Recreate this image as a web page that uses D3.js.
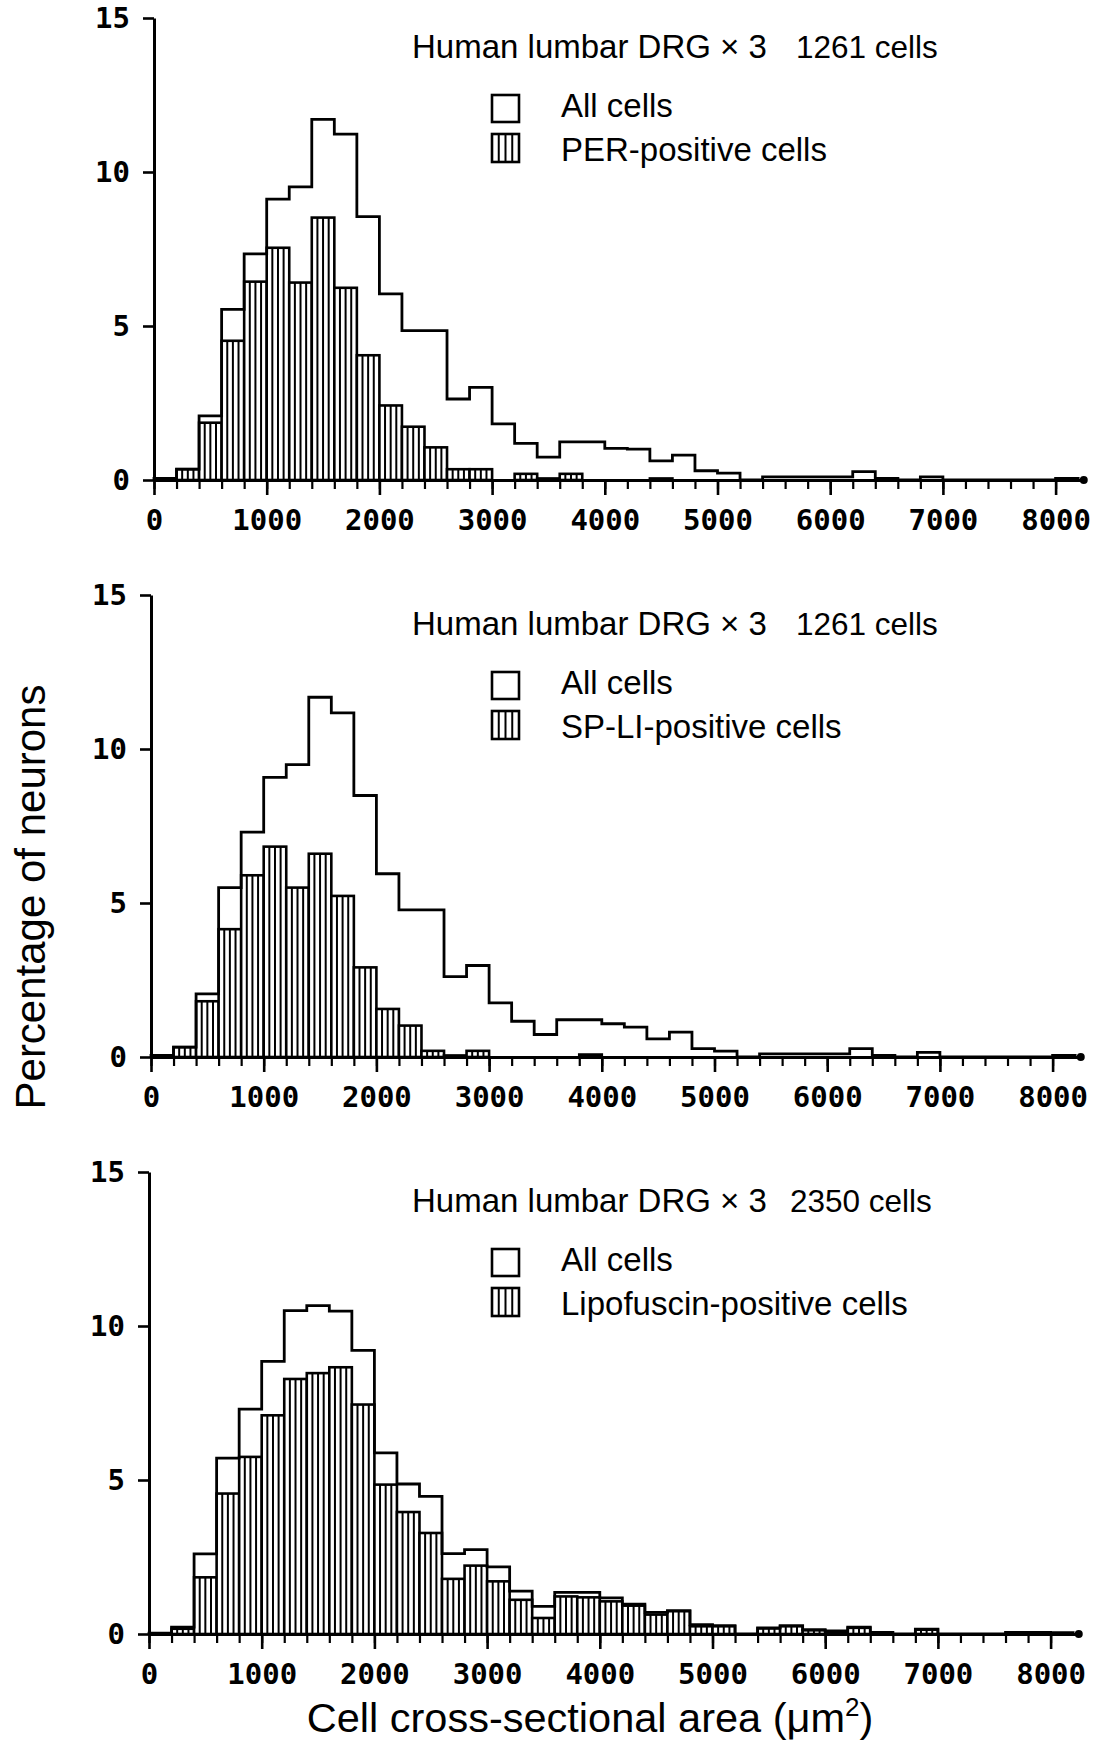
<!DOCTYPE html>
<html>
<head>
<meta charset="utf-8">
<script src="https://cdn.jsdelivr.net/npm/d3@7"></script>
<style>
body { margin: 0; background: #fff; }
</style>
</head>
<body>
<div id="chart"></div>
<script>
// histogram bins: 200 um2 wide, starting at 0 up to 8000
var binWidth = 200;
var binStarts = d3.range(0, 8200, binWidth);

// percentage of neurons per bin
var allCells1 = [0.05, 0.35, 2.08, 5.54, 7.34, 9.12, 9.52, 11.71, 11.23, 8.55,
	6.04, 4.85, 4.85, 2.63, 3.01, 1.82, 1.19, 0.74, 1.24, 1.24,
	1.03, 1.0, 0.62, 0.81, 0.30, 0.22, 0, 0.1, 0.1, 0.1,
	0.1, 0.27, 0.05, 0, 0.1, 0, 0, 0, 0, 0, 0.05];
var perCells = [0, 0.35, 1.86, 4.52, 6.44, 7.54, 6.41, 8.52, 6.24, 4.05,
	2.42, 1.73, 1.06, 0.35, 0.35, 0, 0.2, 0.05, 0.2, 0,
	0, 0, 0.05, 0, 0, 0, 0, 0, 0, 0,
	0, 0, 0.05, 0, 0, 0, 0, 0, 0, 0, 0];

var allCells2 = [0.05, 0.32, 2.05, 5.5, 7.3, 9.08, 9.49, 11.68, 11.17, 8.49,
	5.95, 4.78, 4.78, 2.61, 2.97, 1.76, 1.16, 0.73, 1.21, 1.21,
	1.08, 0.97, 0.59, 0.81, 0.27, 0.19, 0, 0.1, 0.1, 0.1,
	0.1, 0.27, 0.05, 0, 0.15, 0, 0, 0, 0, 0, 0.05];
var spCells = [0, 0.32, 1.81, 4.15, 5.9, 6.83, 5.5, 6.6, 5.23, 2.91,
	1.56, 1.02, 0.2, 0.05, 0.2, 0, 0, 0, 0, 0.08,
	0, 0, 0, 0, 0, 0, 0, 0, 0, 0,
	0, 0, 0.05, 0, 0, 0, 0, 0, 0, 0, 0];

var allCells3 = [0.03, 0.22, 2.6, 5.71, 7.3, 8.85, 10.5, 10.66, 10.48, 9.21,
	5.88, 4.87, 4.47, 2.61, 2.74, 2.18, 1.39, 0.9, 1.35, 1.35,
	1.17, 0.97, 0.70, 0.76, 0.30, 0.27, 0, 0.2, 0.27, 0.14,
	0.1, 0.22, 0.05, 0, 0.16, 0, 0, 0, 0.05, 0.05, 0.04];
var lipoCells = [0, 0.17, 1.84, 4.56, 5.75, 7.1, 8.28, 8.47, 8.66, 7.45,
	4.85, 3.96, 3.28, 1.79, 2.22, 1.71, 1.11, 0.52, 1.22, 1.19,
	1.06, 0.92, 0.63, 0.74, 0.25, 0.25, 0, 0.18, 0.25, 0.12,
	0.08, 0.2, 0.05, 0, 0.14, 0, 0, 0, 0, 0, 0];

var cellCounts = ["1261 cells", "1261 cells", "2350 cells"];
var positiveLabels = ["PER-positive cells", "SP-LI-positive cells", "Lipofuscin-positive cells"];
var headerText = "Human lumbar DRG \u00d7 3";
var legendAll = "All cells";

var xMajorTicks = [0, 1000, 2000, 3000, 4000, 5000, 6000, 7000, 8000];
var xTickLabels = ["0", "1000", "2000", "3000", "4000", "5000", "6000", "7000", "8000"];
var yTicks = [0, 5, 10, 15];
var yTickLabels = ["0", "5", "10", "15"];

var W = 1099, H = 1743;
var pxPer1000 = 112.7;
var axisEnd = 8250; // baseline runs a little past the last bin, ends in a dot
var textFont = "'Liberation Sans', Arial, sans-serif";
var tickFont = "'DejaVu Sans Mono', monospace";

var svg = d3.select("#chart")
	.append("svg")
	.attr("width", W)
	.attr("height", H);

// one entry per panel: where it sits on the page
var panels = [
	{ left: 154, base: 480, all: allCells1, pos: perCells, count: cellCounts[0], countX: 796, label: positiveLabels[0] },
	{ left: 151, base: 1057, all: allCells2, pos: spCells, count: cellCounts[1], countX: 796, label: positiveLabels[1] },
	{ left: 149, base: 1634, all: allCells3, pos: lipoCells, count: cellCounts[2], countX: 790, label: positiveLabels[2] }
];

function hatchLines(g, x0, x1, yTop, yBot) {
	var w = (x1 - x0) / 4;
	for (var k = 1; k < 4; k++) {
		g.append("line")
			.attr("x1", x0 + k * w).attr("x2", x0 + k * w)
			.attr("y1", yTop).attr("y2", yBot)
			.attr("stroke", "#000")
			.attr("stroke-width", 2);
	}
}

function drawPanel(p) {
	var x = d3.scaleLinear().domain([0, axisEnd]).range([p.left, p.left + axisEnd / 1000 * pxPer1000]);
	var y = d3.scaleLinear().domain([0, 15]).range([p.base, p.base - 462]);
	var g = svg.append("g");

	// positive cells: hatched bars
	var bins = binStarts.map(function(s, i) { return { s: s, v: p.pos[i] }; })
		.filter(function(d) { return d.v > 0; });

	var bar = g.selectAll(".bar")
		.data(bins)
		.enter().append("g")
		.attr("class", "bar");

	bar.append("rect")
		.attr("x", function(d) { return x(d.s); })
		.attr("y", function(d) { return y(d.v); })
		.attr("width", function(d) { return x(d.s + binWidth) - x(d.s); })
		.attr("height", function(d) { return y(0) - y(d.v); })
		.attr("fill", "#fff")
		.attr("stroke", "#000")
		.attr("stroke-width", 2.6);

	bar.each(function(d) {
		hatchLines(d3.select(this), x(d.s), x(d.s + binWidth), y(d.v), y(0));
	});

	// all cells: step outline
	var pts = [[0, 0]];
	binStarts.forEach(function(s, i) { pts.push([s, p.all[i]]); });
	pts.push([8200, 0]);

	var line = d3.line()
		.x(function(d) { return x(d[0]); })
		.y(function(d) { return y(d[1]); })
		.curve(d3.curveStepAfter);

	g.append("path")
		.attr("d", line(pts))
		.attr("fill", "none")
		.attr("stroke", "#000")
		.attr("stroke-width", 2.8);

	// x axis: minor ticks every bin, labels every 1000
	var minorAxis = g.append("g")
		.attr("transform", "translate(0," + p.base + ")")
		.call(d3.axisBottom(x).tickValues(binStarts).tickSize(9).tickSizeOuter(0).tickFormat(""));
	minorAxis.select(".domain").attr("stroke-width", 3);
	minorAxis.selectAll(".tick line").attr("stroke-width", 2.2);

	var majorAxis = g.append("g")
		.attr("transform", "translate(0," + p.base + ")")
		.call(d3.axisBottom(x).tickValues(xMajorTicks).tickSize(15).tickPadding(14)
			.tickFormat(function(d, i) { return xTickLabels[i]; }));
	majorAxis.select(".domain").remove();
	majorAxis.selectAll(".tick line").attr("stroke-width", 2.6);
	majorAxis.selectAll("text")
		.style("font-family", tickFont)
		.style("font-weight", "bold")
		.style("font-size", "29px")
		.attr("fill", "#000");

	g.append("circle")
		.attr("cx", x(axisEnd)).attr("cy", p.base)
		.attr("r", 4)
		.attr("fill", "#000");

	// y axis
	var yAxis = g.append("g")
		.attr("transform", "translate(" + p.left + ",0)")
		.call(d3.axisLeft(y).tickValues(yTicks).tickSize(11).tickPadding(13).tickSizeOuter(0)
			.tickFormat(function(d, i) { return yTickLabels[i]; }));
	yAxis.select(".domain").attr("stroke-width", 3);
	yAxis.selectAll(".tick line").attr("stroke-width", 2.6);
	yAxis.selectAll("text")
		.style("font-family", tickFont)
		.style("font-weight", "bold")
		.style("font-size", "29px")
		.attr("fill", "#000");

	// header
	g.append("text")
		.attr("x", 412).attr("y", p.base - 422)
		.style("font-family", textFont)
		.style("font-size", "33px")
		.text(headerText);
	g.append("text")
		.attr("x", p.countX).attr("y", p.base - 422)
		.style("font-family", textFont)
		.style("font-size", "31.5px")
		.text(p.count);

	// legend
	g.append("rect")
		.attr("x", 492).attr("y", p.base - 385)
		.attr("width", 27).attr("height", 27)
		.attr("fill", "none").attr("stroke", "#000").attr("stroke-width", 2.6);
	g.append("rect")
		.attr("x", 492).attr("y", p.base - 346)
		.attr("width", 27).attr("height", 28)
		.attr("fill", "none").attr("stroke", "#000").attr("stroke-width", 2.6);
	hatchLines(g, 492, 519, p.base - 346, p.base - 318);

	g.append("text")
		.attr("x", 561).attr("y", p.base - 363)
		.style("font-family", textFont)
		.style("font-size", "33px")
		.text(legendAll);
	g.append("text")
		.attr("x", 561).attr("y", p.base - 319)
		.style("font-family", textFont)
		.style("font-size", "33px")
		.text(p.label);
}

panels.forEach(drawPanel);

// shared axis titles
svg.append("text")
	.attr("transform", "translate(45,897) rotate(-90)")
	.attr("text-anchor", "middle")
	.style("font-family", textFont)
	.style("font-size", "42px")
	.text("Percentage of neurons");

var xTitle = svg.append("text")
	.attr("x", 590).attr("y", 1732)
	.attr("text-anchor", "middle")
	.style("font-family", textFont)
	.style("font-size", "41.5px");
xTitle.append("tspan").text("Cell cross-sectional area (\u03bcm");
xTitle.append("tspan").attr("dy", -16).style("font-size", "26px").text("2");
xTitle.append("tspan").attr("dy", 16).text(")");
</script>
</body>
</html>
